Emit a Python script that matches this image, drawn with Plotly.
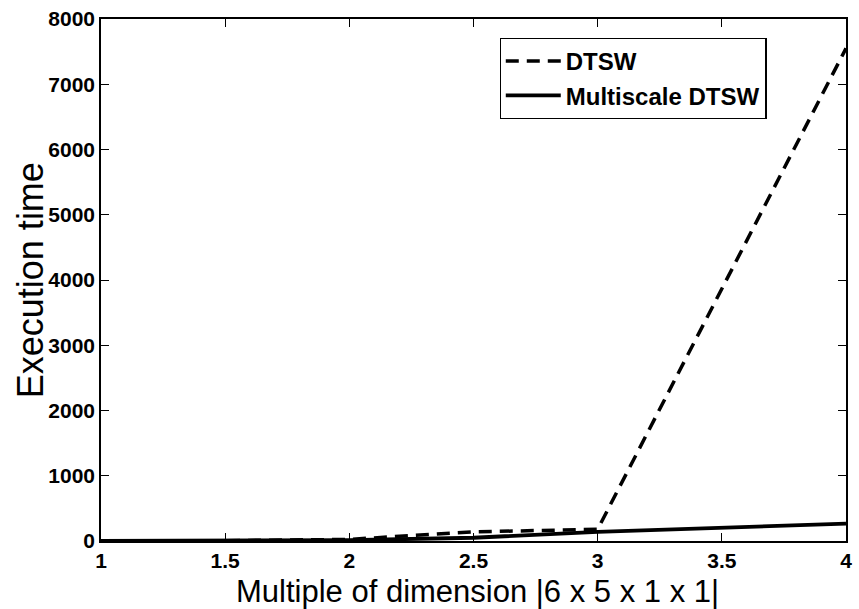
import plotly.graph_objects as go

# Problem size multiples and measured execution times
multiples = [1, 1.5, 2, 2.5, 3, 4]
dtsw_time = [0, 5, 25, 140, 180, 7550]
multiscale_time = [0, 3, 12, 50, 140, 265]

x_ticks = [1, 1.5, 2, 2.5, 3, 3.5, 4]
x_tick_text = ["1", "1.5", "2", "2.5", "3", "3.5", "4"]
y_ticks = [0, 1000, 2000, 3000, 4000, 5000, 6000, 7000, 8000]

x_label = "Multiple of dimension |6 x 5 x 1 x 1|"
y_label = "Execution time"

FONT = "Liberation Sans, Arial, Helvetica, sans-serif"

fig = go.Figure()
fig.add_trace(go.Scatter(
    x=multiples, y=dtsw_time, mode="lines", name="DTSW",
    line=dict(color="black", width=3.5, dash="13px,8px"),
))
fig.add_trace(go.Scatter(
    x=multiples, y=multiscale_time, mode="lines", name="Multiscale DTSW",
    line=dict(color="black", width=3.8),
))

axis_common = dict(
    showline=True, linecolor="black", linewidth=1.5, mirror="ticks",
    ticks="inside", ticklen=8, tickcolor="black", tickwidth=1.2,
    showgrid=False, zeroline=False,
    tickfont=dict(family=FONT, size=21, color="black", weight="bold"),
)

fig.update_xaxes(range=[1, 4], tickvals=x_ticks, ticktext=x_tick_text, **axis_common)
fig.update_yaxes(range=[0, 8000], tickvals=y_ticks, **axis_common)

# Axis labels placed as annotations for precise positioning
fig.add_annotation(
    text=x_label, xref="paper", yref="paper", x=0.505, y=-0.097,
    xanchor="center", yanchor="middle", showarrow=False,
    font=dict(family=FONT, size=31, color="black"),
)
fig.add_annotation(
    text=y_label, xref="paper", yref="paper", x=-0.095, y=0.5,
    xanchor="center", yanchor="middle", showarrow=False, textangle=-90,
    font=dict(family=FONT, size=36, color="black"),
)

fig.update_layout(
    width=859, height=609,
    margin=dict(l=101, r=7, t=19, b=68),
    paper_bgcolor="white", plot_bgcolor="white",
    legend=dict(
        x=0.535, y=0.964, xanchor="left", yanchor="top",
        bgcolor="white", bordercolor="black", borderwidth=1.2,
        font=dict(family=FONT, size=24, color="black", weight="bold"),
        tracegroupgap=0, itemwidth=55,
    ),
)

fig.write_html("out.html")
